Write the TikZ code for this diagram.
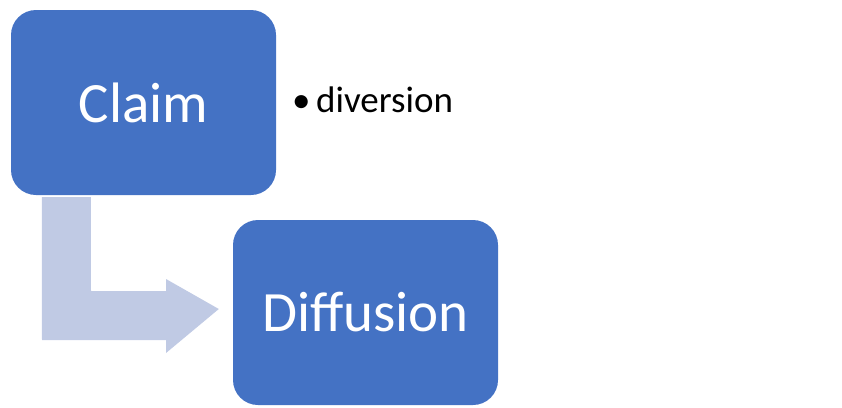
\documentclass[tikz,border=0pt]{standalone}
\usepackage{fontspec}
\setmainfont{Carlito}
\definecolor{boxblue}{RGB}{68,114,196}
\definecolor{arrowblue}{RGB}{192,202,228}
\begin{document}
\begin{tikzpicture}[x=1pt,y=-1pt,
  stagebox/.style={fill=boxblue, draw=none, rounded corners=25pt,
    minimum width=265pt, minimum height=185pt, inner sep=0pt,
    text=white, font=\fontsize{57}{64}\selectfont},
  bullettext/.style={font=\fontsize{37}{42}\selectfont, inner sep=0pt}]
  \useasboundingbox (0,0) rectangle (842,407);
  % the two stages
  \node[stagebox] (claim) at (143.5,102.5) {Claim};
  \node[stagebox] (diffusion) at (365.5,312.5) {Diffusion};
  % bullet point beside the first stage
  \node[bullettext, anchor=base west] (note) at (292,112.5) {•\hspace{0.15em}diversion};
  % bent arrow leading from the first stage down to the second
  \coordinate (bendtop) at (claim.south west);
  \fill[arrowblue] ([xshift=31pt,yshift=-2pt]bendtop) -- ++(49,0) -- (91,291)
    -- (166,291) -- (166,279) -- ([xshift=-14pt,yshift=3.5pt]diffusion.west)
    -- (166,353) -- (166,340) -- (42,340) -- cycle;
\end{tikzpicture}
\end{document}
